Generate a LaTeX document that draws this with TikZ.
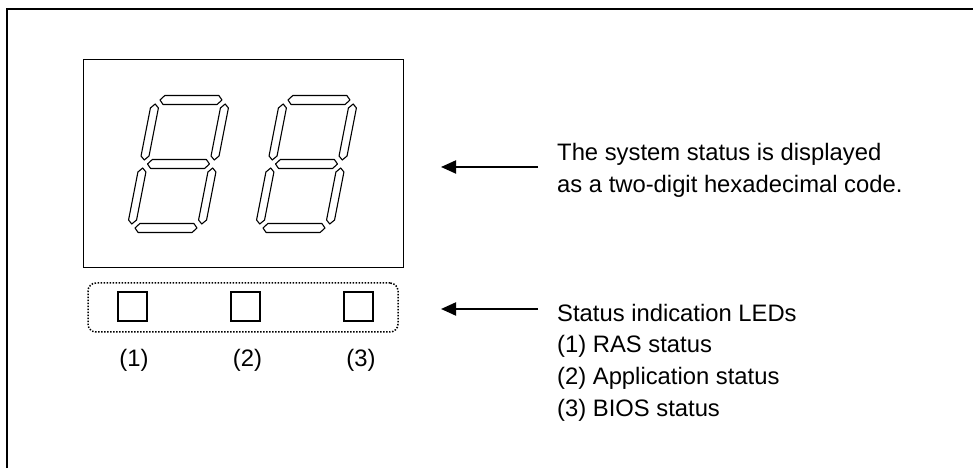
\documentclass[tikz,border=0pt]{standalone}
\usepackage{fontspec}
\setmainfont{Liberation Sans}
\usetikzlibrary{arrows.meta}

\begin{document}
\begin{tikzpicture}[x=1pt, y=1pt,
    arr/.style={-{Triangle[length=15pt, width=13pt]}, line width=2pt},
    seg/.style={draw, line width=1.1pt, line join=round},
    led/.style={draw, line width=2pt, minimum size=29pt, inner sep=0pt},
    ledbox/.style={draw, line width=1.5pt, dash pattern=on 1.5pt off 1.5pt, rounded corners=8pt,
      minimum width=310pt, minimum height=49pt, inner sep=0pt},
    txt/.style={anchor=base west, inner sep=0pt, font=\fontsize{23.8}{32}\selectfont},
    num/.style={anchor=base, inner sep=0pt, font=\fontsize{23.8}{32}\selectfont}]
  \useasboundingbox (0,0) rectangle (973,468);

  % Frame (cut at right and bottom)
  \draw[line width=2pt] (6.5,0) -- (6.5,458.5) -- (973,458.5);

  % Display window
  \node[draw, line width=1pt, minimum width=320pt, minimum height=208pt, inner sep=0pt] (disp) at (243,304) {};

  % Seven-segment digits
  \foreach \dx in {131,259} {
    \begin{scope}[shift={(\dx,240)}, cm={1,0,0.195,1,(0,0)}]
      \foreach \y in {0,64,128}
        \draw[seg] (4,\y) -- (8,\y+4.5) -- (62,\y+4.5) -- (66,\y) -- (62,\y-4.5) -- (8,\y-4.5) -- cycle;
      \foreach \x in {0,70}
        \foreach \y in {0,64}
          \draw[seg] (\x,\y+4) -- (\x+4,\y+8) -- (\x+4,\y+56) -- (\x,\y+60) -- (\x-4,\y+56) -- (\x-4,\y+8) -- cycle;
    \end{scope}
  }

  % Status LEDs
  \node[ledbox] (leds) at (243,160.5) {};
  \node[led] (led1) at (132,161) {};
  \node[led] (led2) at (245,161) {};
  \node[led] (led3) at (358,161) {};
  \node[num] (lab1) at (134,101) {(1)};
  \node[num] (lab2) at (247.5,101) {(2)};
  \node[num] (lab3) at (361,101) {(3)};

  % Descriptions
  \node[txt] (sys1) at (557,307) {The system status is displayed};
  \node[txt] (sys2) at (557,275) {as a two-digit hexadecimal code.};
  \node[txt] (ledTitle) at (557,146) {Status indication LEDs};
  \node[txt] (ledRas) at (557,115) {(1) RAS status};
  \node[txt] (ledApp) at (557,83.5) {(2) Application status};
  \node[txt] (ledBios) at (557,52) {(3) BIOS status};

  % Arrows
  \coordinate (sysTail) at (538,301);
  \coordinate (sysTip) at (441,301);
  \coordinate (ledTail) at (538,159);
  \coordinate (ledTip) at (441,159);
  \draw[arr] (sysTail) -- (sysTip);
  \draw[arr] (ledTail) -- (ledTip);
\end{tikzpicture}
\end{document}
